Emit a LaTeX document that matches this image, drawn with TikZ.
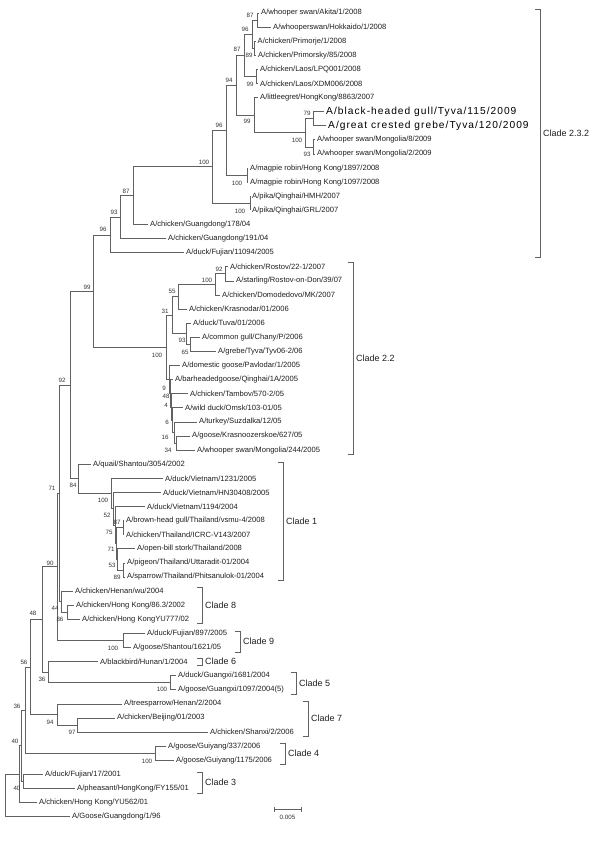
\documentclass[tikz,border=0pt]{standalone}
\usepackage{fontspec}
\setmainfont{Liberation Sans}
\begin{document}
\begin{tikzpicture}[x=1pt,y=-1pt,
  br/.style={draw=black!62, line width=0.8pt},
  leaf/.style={anchor=west, inner xsep=2pt, inner ysep=0pt, font=\fontsize{7.6}{8}\selectfont, text=black!88},
  bigleaf/.style={anchor=west, inner xsep=2pt, inner ysep=0pt, font=\fontsize{10.2}{11}\selectfont\addfontfeatures{LetterSpace=10}, text=black},
  bs/.style={inner sep=0pt, font=\fontsize{6.2}{7}\selectfont, text=black!80},
  clade/.style={anchor=west, inner sep=0pt, font=\fontsize{9}{10}\selectfont, text=black!88}]
\useasboundingbox[fill=white] (0,0) rectangle (600,850);
% internal nodes
\coordinate (n87a) at (257,20.05);
\coordinate (n89) at (254,48.25);
\coordinate (n96a) at (252,34.15);
\coordinate (n99a) at (256,76.45);
\coordinate (n87b) at (244,55.3);
\coordinate (n79) at (313,118.75);
\coordinate (nMo) at (313,146.95);
\coordinate (n100d) at (305,132.85);
\coordinate (n99b) at (254,115.22);
\coordinate (n94) at (236,85.26);
\coordinate (nMag) at (247,175.15);
\coordinate (n96b) at (226,130.2);
\coordinate (nPika) at (250,203.35);
\coordinate (n100e) at (212,166.78);
\coordinate (n87c) at (133,195.64);
\coordinate (n93) at (120,217.12);
\coordinate (n96c) at (110,234.91);
\coordinate (n92b) at (225,273.85);
\coordinate (n100b) at (215,284.43);
\coordinate (n55) at (178,296.76);
\coordinate (nB) at (190,344.35);
\coordinate (nA) at (186,333.78);
\coordinate (n31) at (172,315.27);
\coordinate (nH) at (176,443.05);
\coordinate (nG) at (174,432.48);
\coordinate (nF) at (172,420.14);
\coordinate (nE) at (171,406.92);
\coordinate (nD) at (170,393.26);
\coordinate (nC) at (169,379.38);
\coordinate (n100c) at (166,347.33);
\coordinate (n99) at (93,291.12);
\coordinate (nP) at (123,569.95);
\coordinate (nO) at (117,559.38);
\coordinate (nBH) at (123,527.65);
\coordinate (nQ) at (116,543.51);
\coordinate (nR) at (115,525.0);
\coordinate (nS) at (113,508.7);
\coordinate (n100f) at (111,493.5);
\coordinate (n84) at (78,478.85);
\coordinate (n92) at (70,384.99);
\coordinate (n86) at (67,612.25);
\coordinate (n44) at (61,601.68);
\coordinate (n71) at (59,493.33);
\coordinate (n100g) at (123,640.45);
\coordinate (n90) at (57,566.89);
\coordinate (n100h) at (170,682.75);
\coordinate (n36a) at (48,672.18);
\coordinate (n48) at (42,619.53);
\coordinate (n97) at (77,725.05);
\coordinate (n94b) at (57,714.48);
\coordinate (n56) at (30,667.0);
\coordinate (n100i) at (155,753.25);
\coordinate (n36b) at (25,710.13);
\coordinate (n40c) at (23,781.45);
\coordinate (n40a) at (21,745.79);
\coordinate (nZ) at (19,774.2);
\coordinate (root) at (5,795.45);
% leaves
\node[leaf] (L1) at (259,13.0) {A/whooper swan/Akita/1/2008};
\node[leaf] (L2) at (271,27.1) {A/whooperswan/Hokkaido/1/2008};
\node[leaf] (L3) at (255.5,41.2) {A/chicken/Primorje/1/2008};
\node[leaf] (L4) at (256,55.3) {A/chicken/Primorsky/85/2008};
\node[leaf] (L5) at (258,69.4) {A/chicken/Laos/LPQ001/2008};
\node[leaf] (L6) at (258,83.5) {A/chicken/Laos/XDM006/2008};
\node[leaf] (L7) at (258,97.6) {A/littleegret/HongKong/8863/2007};
\node[bigleaf] (L8) at (324,111.7) {A/black-headed gull/Tyva/115/2009};
\node[bigleaf] (L9) at (326,125.8) {A/great crested grebe/Tyva/120/2009};
\node[leaf] (L10) at (315,139.9) {A/whooper swan/Mongolia/8/2009};
\node[leaf] (L11) at (315,154.0) {A/whooper swan/Mongolia/2/2009};
\node[leaf] (L12) at (248,168.1) {A/magpie robin/Hong Kong/1897/2008};
\node[leaf] (L13) at (248,182.2) {A/magpie robin/Hong Kong/1097/2008};
\node[leaf] (L14) at (250,196.3) {A/pika/Qinghai/HMH/2007};
\node[leaf] (L15) at (250,210.4) {A/pika/Qinghai/GRL/2007};
\node[leaf] (L16) at (148,224.5) {A/chicken/Guangdong/178/04};
\node[leaf] (L17) at (166,238.6) {A/chicken/Guangdong/191/04};
\node[leaf] (L18) at (184,252.7) {A/duck/Fujian/11094/2005};
\node[leaf] (L19) at (228,266.8) {A/chicken/Rostov/22-1/2007};
\node[leaf] (L20) at (234,280.9) {A/starling/Rostov-on-Don/39/07};
\node[leaf] (L21) at (220,295.0) {A/chicken/Domodedovo/MK/2007};
\node[leaf] (L22) at (187,309.1) {A/chicken/Krasnodar/01/2006};
\node[leaf] (L23) at (191,323.2) {A/duck/Tuva/01/2006};
\node[leaf] (L24) at (200,337.3) {A/common gull/Chany/P/2006};
\node[leaf] (L25) at (216,351.4) {A/grebe/Tyva/Tyv06-2/06};
\node[leaf] (L26) at (180,365.5) {A/domestic goose/Pavlodar/1/2005};
\node[leaf] (L27) at (173,379.6) {A/barheadedgoose/Qinghai/1A/2005};
\node[leaf] (L28) at (188,393.7) {A/chicken/Tambov/570-2/05};
\node[leaf] (L29) at (183,407.8) {A/wild duck/Omsk/103-01/05};
\node[leaf] (L30) at (197,421.9) {A/turkey/Suzdalka/12/05};
\node[leaf] (L31) at (190,436.0) {A/goose/Krasnoozerskoe/627/05};
\node[leaf] (L32) at (195,450.1) {A/whooper swan/Mongolia/244/2005};
\node[leaf] (L33) at (91,464.2) {A/quail/Shantou/3054/2002};
\node[leaf] (L34) at (163,478.3) {A/duck/Vietnam/1231/2005};
\node[leaf] (L35) at (161,492.4) {A/duck/Vietnam/HN30408/2005};
\node[leaf] (L36) at (145,506.5) {A/duck/Vietnam/1194/2004};
\node[leaf] (L37) at (124,520.6) {A/brown-head gull/Thailand/vsmu-4/2008};
\node[leaf] (L38) at (124,534.7) {A/chicken/Thailand/ICRC-V143/2007};
\node[leaf] (L39) at (135,548.8) {A/open-bill stork/Thailand/2008};
\node[leaf] (L40) at (125,562.9) {A/pigeon/Thailand/Uttaradit-01/2004};
\node[leaf] (L41) at (125,577.0) {A/sparrow/Thailand/Phitsanulok-01/2004};
\node[leaf] (L42) at (73,591.1) {A/chicken/Henan/wu/2004};
\node[leaf] (L43) at (74,605.2) {A/chicken/Hong Kong/86.3/2002};
\node[leaf] (L44) at (80,619.3) {A/chicken/Hong KongYU777/02};
\node[leaf] (L45) at (145,633.4) {A/duck/Fujian/897/2005};
\node[leaf] (L46) at (131,647.5) {A/goose/Shantou/1621/05};
\node[leaf] (L47) at (98,661.6) {A/blackbird/Hunan/1/2004};
\node[leaf] (L48) at (176,675.7) {A/duck/Guangxi/1681/2004};
\node[leaf] (L49) at (176,689.8) {A/goose/Guangxi/1097/2004(5)};
\node[leaf] (L50) at (122,703.9) {A/treesparrow/Henan/2/2004};
\node[leaf] (L51) at (115,718.0) {A/chicken/Beijing/01/2003};
\node[leaf] (L52) at (208,732.1) {A/chicken/Shanxi/2/2006};
\node[leaf] (L53) at (166,746.2) {A/goose/Guiyang/337/2006};
\node[leaf] (L54) at (174,760.3) {A/goose/Guiyang/1175/2006};
\node[leaf] (L55) at (43,774.4) {A/duck/Fujian/17/2001};
\node[leaf] (L56) at (75,788.5) {A/pheasant/HongKong/FY155/01};
\node[leaf] (L57) at (37,802.6) {A/chicken/Hong Kong/YU562/01};
\node[leaf] (L58) at (70,816.7) {A/Goose/Guangdong/1/96};
% branches
\foreach \p/\c in {n87a/L1,n87a/L2,n89/L3,n89/L4,n96a/n87a,n96a/n89,n99a/L5,n99a/L6,
  n87b/n96a,n87b/n99a,n79/L8,n79/L9,nMo/L10,nMo/L11,n100d/n79,n100d/nMo,n99b/L7,n99b/n100d,
  n94/n87b,n94/n99b,nMag/L12,nMag/L13,n96b/n94,n96b/nMag,nPika/L14,nPika/L15,
  n100e/n96b,n100e/nPika,n87c/n100e,n87c/L16,n93/n87c,n93/L17,n96c/n93,n96c/L18,
  n92b/L19,n92b/L20,n100b/n92b,n100b/L21,n55/n100b,n55/L22,nB/L24,nB/L25,nA/L23,nA/nB,
  n31/n55,n31/nA,nH/L31,nH/L32,nG/L30,nG/nH,nF/L29,nF/nG,nE/L28,nE/nF,nD/L27,nD/nE,
  nC/L26,nC/nD,n100c/n31,n100c/nC,n99/n96c,n99/n100c,
  nP/L40,nP/L41,nO/L39,nO/nP,nBH/L37,nBH/L38,nQ/nBH,nQ/nO,nR/L36,nR/nQ,nS/L35,nS/nR,
  n100f/L34,n100f/nS,n84/L33,n84/n100f,n92/n99,n92/n84,
  n86/L43,n86/L44,n44/L42,n44/n86,n71/n92,n71/n44,n100g/L45,n100g/L46,n90/n71,n90/n100g,
  n100h/L48,n100h/L49,n36a/L47,n36a/n100h,n48/n90,n48/n36a,
  n97/L51,n97/L52,n94b/L50,n94b/n97,n56/n48,n56/n94b,n100i/L53,n100i/L54,
  n36b/n56,n36b/n100i,n40c/L55,n40c/L56,n40a/n36b,n40a/n40c,nZ/n40a,nZ/L57,root/nZ,root/L58}
  \draw[br] (\p) |- (\c);
% bootstrap values
\foreach \t/\x/\y [count=\i] in {87/250/15,96/245/29,87/237/49,89/249/55,99/250/84,94/229/80,
  99/247/121,79/307/113,100/297/140,93/307/154,96/219/125,100/204/162,100/237/183,100/240/211,
  87/126/191,93/114/212,96/103/229,99/87/287,92/219/269,100/207/280,55/172/291,31/165/311,
  93/182/340,65/185/352,100/157/355,9/164/388,48/166/396,4/166/405,6/167/422,16/165/437,34/168/450,
  92/62/380,84/73/485,100/103/500,52/107/515,87/117/522,75/109/532,71/111/549,53/112/565,89/117/577,
  71/52/488,90/50/563,44/55/608,86/60/619,100/113/648,48/33/613,36/42/679,100/162/689,
  56/24/662,36/17/706,94/50/722,97/72/732,100/147/761,40/15/741,40/17/788}
  \node[bs] (b\i) at (\x,\y) {\t};
% clade brackets
\foreach \n/\x/\t/\b [count=\i] in {2.3.2/540/9/257,2.2/353/262/454,1/283/462/580,8/202/587/623,
  9/240/631/652,6/202/658/665,5/296/672/694,7/308/701/736,4/285/743/764,3/202/772/793}
  {\draw[br] ({\x-5},\t) -- (\x,\t) -- (\x,\b) -- ({\x-5},\b);
   \node[clade] (c\i) at ({\x+3},{(\t+\b)/2}) {Clade \n};}
% scale bar
\coordinate (sbl) at (274,809);
\coordinate (sbr) at (301,809);
\draw[br] (sbl) -- (sbr);
\draw[br] ([yshift=2.5pt]sbl) -- ([yshift=-2.5pt]sbl);
\draw[br] ([yshift=2.5pt]sbr) -- ([yshift=-2.5pt]sbr);
\node[bs] (sblab) at (287.5,817.5) {0.005};
\end{tikzpicture}
\end{document}
